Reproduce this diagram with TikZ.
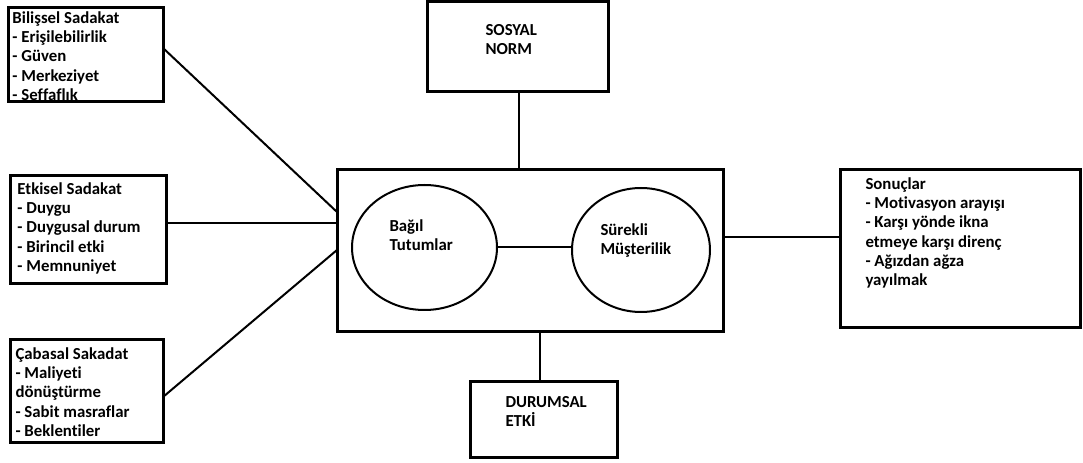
\documentclass[tikz,border=0pt]{standalone}
\usepackage{fontspec}
\setmainfont{Carlito}[Ligatures=CommonOff]
\usetikzlibrary{shapes.geometric,calc}
\tikzset{every picture/.style={line width=0.75pt}}

\begin{document}
\begin{tikzpicture}[x=0.75pt,y=0.75pt,yscale=-1,xscale=1,
  boxsty/.style={draw,rectangle,line width=2.25pt,inner sep=0pt,outer sep=0pt},
  ovalsty/.style={draw,ellipse,line width=1.5pt,inner sep=0pt,outer sep=0pt},
  txtsty/.style={anchor=north west,align=left,inner sep=0pt,font=\fontsize{12.6}{14.5}\selectfont\bfseries},
  linksty/.style={line width=1.5pt}]
%set diagram left start at 0, and has height of 463
\useasboundingbox (0,0) rectangle (1083,463);

%Shape: Rectangle [id:bilissel]
\node[boxsty,minimum width=116.25pt,minimum height=70.5pt] (bil) at (85.5,55) {};
%Shape: Rectangle [id:etkisel]
\node[boxsty,minimum width=117pt,minimum height=81pt] (etk) at (88,230) {};
%Shape: Rectangle [id:cabasal]
\node[boxsty,minimum width=114.75pt,minimum height=77.25pt] (cab) at (86.5,391.5) {};
%Shape: Rectangle [id:sosyal]
\node[boxsty,minimum width=135.75pt,minimum height=67.5pt] (sos) at (517.5,47) {};
%Shape: Rectangle [id:durumsal]
\node[boxsty,minimum width=110.25pt,minimum height=57pt] (dur) at (543.5,420) {};
%Shape: Rectangle [id:sonuclar]
\node[boxsty,minimum width=180pt,minimum height=118.5pt] (son) at (960,249) {};
%Shape: Rectangle [id:orta]
\node[boxsty,minimum width=289.5pt,minimum height=121.5pt] (mid) at (530,251) {};

%Shape: Ellipse [id:bagil]
\node[ovalsty,minimum width=108.75pt,minimum height=93.75pt] (bag) at (424.5,247.5) {};
%Shape: Ellipse [id:surekli]
\node[ovalsty,minimum width=103.5pt,minimum height=93pt] (sur) at (641,250) {};

%Straight Lines
\draw[linksty] ($(bil.east)+(0,-7)$) -- ($(mid.west)+(0,-39)$);
\draw[linksty] ($(etk.east)+(0,-7)$) -- ($(mid.west)+(0,-28)$);
\draw[linksty] ($(cab.east)+(0,5.5)$) -- ($(mid.west)+(0,-1)$);
\draw[linksty] ($(sos.south)+(1.5,0)$) -- ($(mid.north)+(-11,0)$);
\draw[linksty] ($(mid.south)+(10,0)$) -- ($(dur.north)+(-3.5,0)$);
\draw[linksty] ($(mid.east)+(0,-14)$) -- ($(son.west)+(0,-12)$);
\draw[linksty] (bag.east) -- (bag.east -| sur.west);

% Text Node
\node[txtsty] (biltxt) at (12,11) {Bilişsel Sadakat\\- Erişilebilirlik\\- Güven\\- Merkeziyet\\- Şeffaflık};
% Text Node
\node[txtsty] (etktxt) at (17,182) {Etkisel Sadakat\\- Duygu\\- Duygusal durum\\- Birincil etki\\- Memnuniyet};
% Text Node
\node[txtsty] (cabtxt) at (15,347) {Çabasal Sakadat\\- Maliyeti\\dönüştürme\\- Sabit masraflar\\- Beklentiler};
% Text Node
\node[txtsty] (sontxt) at (865,177) {Sonuçlar\\- Motivasyon arayışı\\- Karşı yönde ikna\\etmeye karşı direnç\\- Ağızdan ağza\\yayılmak};
% Text Node
\node[txtsty] (sostxt) at (485,24) {SOSYAL\\NORM};
% Text Node
\node[txtsty] (durtxt) at (505,396) {DURUMSAL\\ETKİ};
% Text Node
\node[txtsty] (bagtxt) at (389,219) {Bağıl\\Tutumlar};
% Text Node
\node[txtsty] (surtxt) at (600,223) {Sürekli\\Müşterilik};

\end{tikzpicture}
\end{document}
